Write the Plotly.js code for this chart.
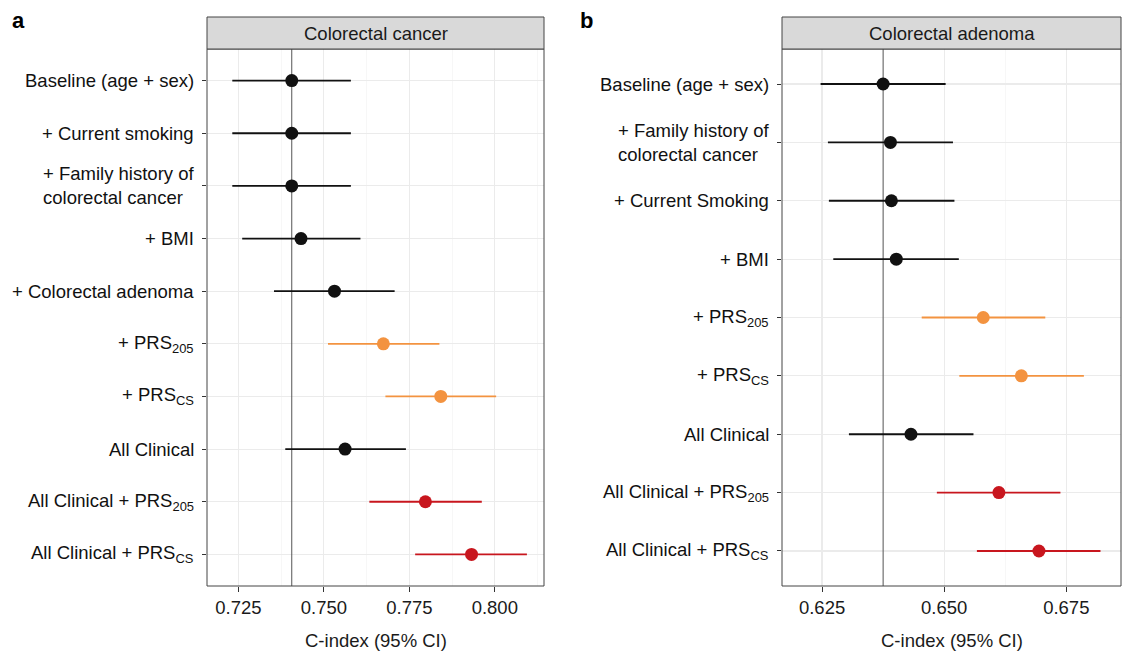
<!DOCTYPE html>
<html>
<head>
<meta charset="utf-8">
<script src="https://cdn.plot.ly/plotly-3.0.1.min.js"></script>
<style>html,body{margin:0;padding:0;background:#fff;} #chart{width:1123px;height:653px;}</style>
</head>
<body>
<div id="chart"></div>
<script>
// ---------- Data ----------
const panelTitleA = "Colorectal cancer";
const labelsA = ["Baseline (age + sex)", "+ Current smoking", "+ Family history of<br>colorectal cancer", "+ BMI", "+ Colorectal adenoma", "+ PRS<sub>205</sub>", "+ PRS<sub>CS</sub>", "All Clinical", "All Clinical + PRS<sub>205</sub>", "All Clinical + PRS<sub>CS</sub>"];
const estA = [0.7406, 0.7406, 0.7406, 0.7433, 0.7531, 0.7674, 0.7842, 0.7562, 0.7797, 0.7932];
const lowA = [0.7232, 0.7232, 0.7232, 0.7261, 0.7354, 0.7512, 0.7680, 0.7387, 0.7633, 0.7767];
const upA  = [0.7579, 0.7579, 0.7579, 0.7607, 0.7707, 0.7838, 0.8004, 0.7740, 0.7962, 0.8094];
const groupA = ["clin", "clin", "clin", "clin", "clin", "prs", "prs", "clin", "clinprs", "clinprs"];

const panelTitleB = "Colorectal adenoma";
const labelsB = ["Baseline (age + sex)", "+ Family history of<br>colorectal cancer", "+ Current Smoking", "+ BMI", "+ PRS<sub>205</sub>", "+ PRS<sub>CS</sub>", "All Clinical", "All Clinical + PRS<sub>205</sub>", "All Clinical + PRS<sub>CS</sub>"];
const estB = [0.6375, 0.6390, 0.6392, 0.6402, 0.6580, 0.6658, 0.6432, 0.6612, 0.6694];
const lowB = [0.6247, 0.6262, 0.6264, 0.6273, 0.6454, 0.6531, 0.6305, 0.6485, 0.6567];
const upB  = [0.6503, 0.6518, 0.6521, 0.6530, 0.6707, 0.6786, 0.6560, 0.6738, 0.6820];
const groupB = ["clin", "clin", "clin", "clin", "prs", "prs", "clin", "clinprs", "clinprs"];

const ticksA = [0.725, 0.750, 0.775, 0.800];
const tickLabelsA = ["0.725", "0.750", "0.775", "0.800"];
const ticksB = [0.625, 0.650, 0.675];
const tickLabelsB = ["0.625", "0.650", "0.675"];
const xTitle = "C-index (95% CI)";
const panelLetters = ["a", "b"];

// ---------- Styles ----------
const groupColors = {clin: "#111111", prs: "#F39340", clinprs: "#C8161E"};
const FONT = "Liberation Sans, Arial, Helvetica, sans-serif";
const FS = 18.5;
const W = 1123, H = 653;
const px2x = p => p / W;
const px2y = p => 1 - p / H;

const traces = [];
function addPanel(est, low, up, group, xa, ya) {
  const n = est.length;
  // reference line at the baseline estimate (drawn first, under points)
  traces.push({
    type: "scatter", mode: "lines",
    x: [est[0], est[0]], y: [0.4, n + 0.6],
    xaxis: xa, yaxis: ya,
    line: {color: "#555555", width: 1},
    showlegend: false, hoverinfo: "skip"
  });
  Object.keys(groupColors).forEach(g => {
    const idx = group.map((v, i) => v === g ? i : -1).filter(i => i >= 0);
    if (!idx.length) return;
    traces.push({
      type: "scatter", mode: "markers",
      x: idx.map(i => est[i]),
      y: idx.map(i => i + 1),
      xaxis: xa, yaxis: ya,
      marker: {color: groupColors[g], size: 13},
      error_x: {
        type: "data", symmetric: false,
        array: idx.map(i => up[i] - est[i]),
        arrayminus: idx.map(i => est[i] - low[i]),
        color: groupColors[g], thickness: 1.8, width: 0
      },
      showlegend: false, hoverinfo: "x+y"
    });
  });
}
addPanel(estA, lowA, upA, groupA, "x", "y");
addPanel(estB, lowB, upB, groupB, "x2", "y2");

const domYA = [px2y(586), px2y(49)];
const domXA = [px2x(207), px2x(544)];
const domXB = [px2x(782), px2x(1121)];

function xaxis(domain, range, tv, tt, anchor) {
  return {
    domain: domain, range: range, anchor: anchor,
    tickmode: "array", tickvals: tv, ticktext: tt,
    ticks: "outside", ticklen: 5, tickwidth: 1, tickcolor: "#333333",
    tickfont: {family: FONT, size: FS, color: "#1a1a1a"},
    showgrid: true, gridcolor: "#EBEBEB", gridwidth: 1.1,
    minor: {showgrid: true, gridcolor: "#F3F3F3", gridwidth: 0.7, dtick: 0.0125, tick0: tv[0]},
    zeroline: false, showline: false, fixedrange: true
  };
}
function yaxis(n, anchor) {
  const vals = [];
  for (let i = 1; i <= n; i++) vals.push(i);
  return {
    domain: domYA, range: [n + 0.6, 0.4], anchor: anchor,
    tickmode: "array", tickvals: vals, showticklabels: false,
    ticks: "outside", ticklen: 4, tickwidth: 1, tickcolor: "#333333",
    showgrid: true, gridcolor: "#EBEBEB", gridwidth: 1.1,
    zeroline: false, showline: false, fixedrange: true
  };
}

const annotations = [];
const shapes = [];
function decorate(labels, xr, yr, domX, title, letter, letterX) {
  labels.forEach((lab, i) => {
    annotations.push({
      xref: "paper", yref: yr, x: domX[0], y: i + 1,
      xanchor: "right", yanchor: "middle", xshift: -11, align: "left",
      text: lab, showarrow: false,
      font: {family: FONT, size: FS, color: "#111111"}
    });
  });
  // panel border
  shapes.push({type: "rect", xref: "paper", yref: "paper", x0: domX[0], x1: domX[1], y0: domYA[0], y1: domYA[1],
    line: {color: "#444444", width: 1}, fillcolor: "rgba(0,0,0,0)", layer: "above"});
  // strip
  shapes.push({type: "rect", xref: "paper", yref: "paper", x0: domX[0], x1: domX[1], y0: px2y(49), y1: px2y(17),
    line: {color: "#444444", width: 1}, fillcolor: "#D9D9D9", layer: "above"});
  const cx = (domX[0] + domX[1]) / 2;
  annotations.push({xref: "paper", yref: "paper", x: cx, y: px2y(33), xanchor: "center", yanchor: "middle",
    text: title, showarrow: false, font: {family: FONT, size: FS, color: "#1a1a1a"}});
  // x title
  annotations.push({xref: "paper", yref: "paper", x: cx, y: px2y(640), xanchor: "center", yanchor: "middle",
    text: xTitle, showarrow: false, font: {family: FONT, size: FS, color: "#1a1a1a"}});
  // panel letter
  annotations.push({xref: "paper", yref: "paper", x: px2x(letterX), y: px2y(20), xanchor: "center", yanchor: "middle",
    text: "<b>" + letter + "</b>", showarrow: false, font: {family: FONT, size: 22, color: "#000000"}});
}
decorate(labelsA, "x", "y", domXA, panelTitleA, panelLetters[0], 18);
decorate(labelsB, "x2", "y2", domXB, panelTitleB, panelLetters[1], 586);

const layout = {
  width: W, height: H,
  margin: {l: 0, r: 0, t: 0, b: 0},
  paper_bgcolor: "#ffffff", plot_bgcolor: "#ffffff",
  showlegend: false,
  xaxis: xaxis(domXA, [0.7158, 0.8144], ticksA, tickLabelsA, "y"),
  yaxis: yaxis(labelsA.length, "x"),
  xaxis2: xaxis(domXB, [0.6168, 0.6862], ticksB, tickLabelsB, "y2"),
  yaxis2: yaxis(labelsB.length, "x2"),
  annotations: annotations,
  shapes: shapes
};

Plotly.newPlot("chart", traces, layout, {displayModeBar: false, staticPlot: true});
</script>
</body>
</html>
